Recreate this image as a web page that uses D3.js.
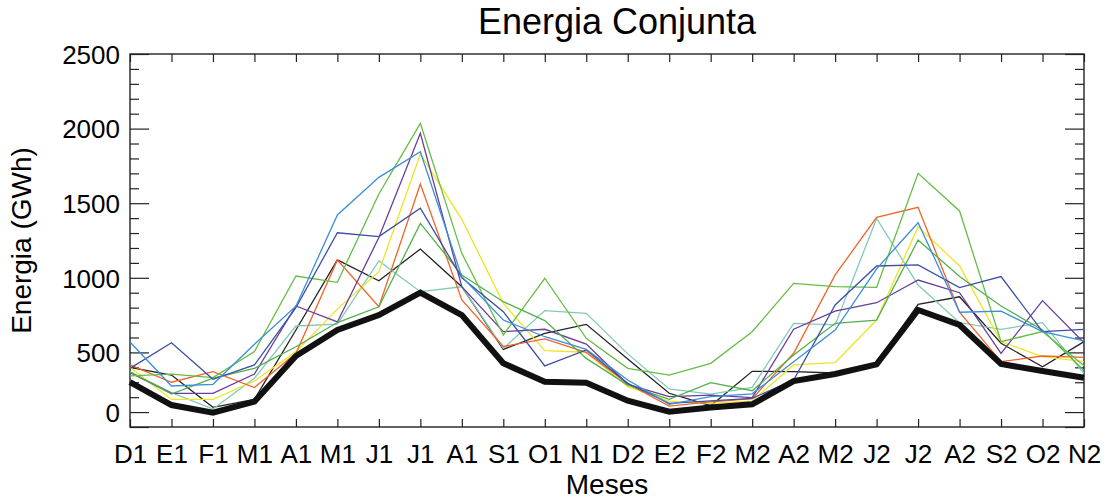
<!DOCTYPE html>
<html>
<head>
<meta charset="utf-8">
<script src="https://cdn.jsdelivr.net/npm/d3@7"></script>
<style>
  html, body { margin: 0; padding: 0; background: #fff; }
  svg { display: block; font-family: "Liberation Sans", Arial, Helvetica, sans-serif; }
</style>
</head>
<body>
<svg id="chart" width="1107" height="499"></svg>
<script>
// Months (two consecutive years, numbered 1 and 2)
const meses = ["D1","E1","F1","M1","A1","M1","J1","J1","A1","S1","O1","N1",
               "D2","E2","F2","M2","A2","M2","J2","J2","A2","S2","O2","N2"];

// Y-axis major ticks and their printed labels
const yTickValues = [0, 100, 500, 1000, 1500, 2000, 2500];
const yTickLabels = ["", "0", "500", "1000", "1500", "2000", "2500"];

// Energy per scenario (GWh)
const escAzulClaro = [570,275,286,555,810,1421,1673,1845,1007,717,605,521,315,152,203,222,438,650,1060,1369,769,777,639,578];
const escAzul      = [393,565,320,416,800,1302,1276,1466,1000,773,409,516,293,159,175,192,315,818,1079,1086,934,1008,639,655];
const escVerde1    = [342,355,331,505,1012,970,1562,2035,1164,617,997,594,393,348,427,639,963,941,936,1700,1448,572,640,410];
const escVerde2    = [370,221,328,393,538,700,806,1365,1019,840,713,460,281,185,297,243,483,695,717,1253,1008,811,650,378];
const escMorado    = [364,226,226,355,811,704,1270,1968,940,639,655,556,286,203,214,197,655,777,833,985,900,494,847,565];
const escNaranja   = [416,300,371,264,494,1119,806,1629,851,540,590,500,290,140,168,190,494,1019,1405,1472,769,438,476,467];
const escAmarillo  = [400,185,185,308,505,790,1041,1830,1392,829,512,501,270,174,159,174,416,431,717,1343,1079,572,471,438];
const escTurquesa  = [370,230,120,326,677,690,1113,907,940,527,780,762,490,255,221,266,695,684,1398,952,699,655,699,360];
const escNegro     = [400,348,132,185,650,1120,980,1193,940,520,628,688,455,226,143,373,371,362,430,822,873,561,404,572];
// Joint (firm) energy: thick black line
const energiaConjunta = [300,147,96,170,476,650,750,900,750,427,304,297,176,103,130,152,308,355,420,784,684,422,375,330];

const escenarios = [escNegro, escTurquesa, escAmarillo, escNaranja, escMorado, escVerde2, escVerde1, escAzul, escAzulClaro];
const colores    = ["#222222", "#80cbb8", "#efe424", "#f0642a", "#6a3e98", "#52b04c", "#66bd45", "#3c4fa3", "#3a8edb"];

const svg = d3.select("#chart");
const mLeft = 130, mRight = 1084, mTop = 54, mBottom = 427;

const x = d3.scaleLinear().domain([0, meses.length - 1]).range([mLeft, mRight]);
const y = d3.scaleLinear().domain([0, 2500]).range([mBottom, mTop]);

const axisColor = "#222";
const fontTick = 26;

function styleAxis(g) {
  g.select(".domain").remove();
  g.selectAll(".tick line").attr("stroke", axisColor).attr("stroke-width", 1.2);
  g.selectAll(".tick text").attr("fill", "#000").style("font-size", fontTick + "px");
}

// Bottom axis: month ticks pointing inward
svg.append("g")
  .attr("transform", `translate(0,${mBottom})`)
  .call(d3.axisBottom(x).tickValues(d3.range(meses.length))
        .tickSizeInner(-8).tickSizeOuter(0)
        .tickFormat(i => meses[i]))
  .call(styleAxis)
  .call(g => g.selectAll(".tick text").attr("dy", "0.71em").attr("y", 18));

// Top axis: same ticks, no labels
svg.append("g")
  .attr("transform", `translate(0,${mTop})`)
  .call(d3.axisTop(x).tickValues(d3.range(meses.length))
        .tickSizeInner(-8).tickSizeOuter(0).tickFormat(""))
  .call(styleAxis);

// Left axis: major + minor ticks
const minorVals = d3.range(0, 2501, 100).filter(v => !yTickValues.includes(v));
svg.append("g")
  .attr("transform", `translate(${mLeft},0)`)
  .call(d3.axisLeft(y).tickValues(yTickValues)
        .tickSizeInner(-19).tickSizeOuter(0)
        .tickFormat((d, i) => yTickLabels[i]))
  .call(styleAxis)
  .call(g => g.selectAll(".tick text").attr("x", -10).attr("dy", "0.36em"));
svg.append("g")
  .attr("transform", `translate(${mLeft},0)`)
  .call(d3.axisLeft(y).tickValues(minorVals).tickSizeInner(-9).tickSizeOuter(0).tickFormat(""))
  .call(styleAxis);

// Right axis: major + minor ticks, no labels
svg.append("g")
  .attr("transform", `translate(${mRight},0)`)
  .call(d3.axisRight(y).tickValues(yTickValues).tickSizeInner(-19).tickSizeOuter(0).tickFormat(""))
  .call(styleAxis);
svg.append("g")
  .attr("transform", `translate(${mRight},0)`)
  .call(d3.axisRight(y).tickValues(minorVals).tickSizeInner(-9).tickSizeOuter(0).tickFormat(""))
  .call(styleAxis);

// Plot frame
svg.append("rect")
  .attr("x", mLeft).attr("y", mTop)
  .attr("width", mRight - mLeft).attr("height", mBottom - mTop)
  .attr("fill", "none").attr("stroke", axisColor).attr("stroke-width", 1.4);

// Series lines
const line = d3.line().x((d, i) => x(i)).y(d => y(d));
const plot = svg.append("g");
escenarios.forEach((serie, k) => {
  plot.append("path")
    .datum(serie)
    .attr("d", line)
    .attr("fill", "none")
    .attr("stroke", colores[k])
    .attr("stroke-width", 1.3)
    .attr("stroke-linejoin", "miter");
});
plot.append("path")
  .datum(energiaConjunta)
  .attr("d", line)
  .attr("fill", "none")
  .attr("stroke", "#111")
  .attr("stroke-width", 6)
  .attr("stroke-linejoin", "miter");

// Titles
svg.append("text")
  .attr("x", 617).attr("y", 34)
  .attr("text-anchor", "middle")
  .style("font-size", "36px")
  .text("Energia Conjunta");

svg.append("text")
  .attr("x", (mLeft + mRight) / 2).attr("y", 494)
  .attr("text-anchor", "middle")
  .style("font-size", "28px")
  .text("Meses");

svg.append("text")
  .attr("transform", `translate(31,${(mTop + mBottom) / 2}) rotate(-90)`)
  .attr("text-anchor", "middle")
  .style("font-size", "28px")
  .text("Energia (GWh)");
</script>
</body>
</html>
